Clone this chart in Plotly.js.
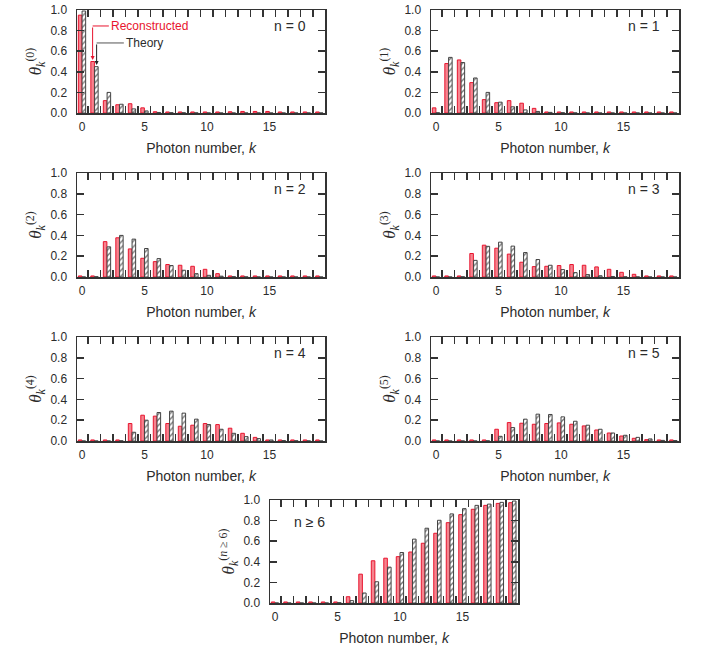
<!DOCTYPE html>
<html>
<head>
<meta charset="utf-8">
<script src="https://cdn.plot.ly/plotly-3.0.1.min.js"></script>
<style>
  html, body { margin: 0; padding: 0; background: #fff; }
  #chart { width: 709px; height: 649px; }
</style>
</head>
<body>
<div id="chart"></div>
<script>
// photon number k = 0..19
const kValues = [0,1,2,3,4,5,6,7,8,9,10,11,12,13,14,15,16,17,18,19];
const xTickVals = [0, 5, 10, 15];
const xTickText = ['0', '5', '10', '15'];

const panelLabels = ['n = 0', 'n = 1', 'n = 2', 'n = 3', 'n = 4', 'n = 5', 'n \u2265 6'];
const panelSup = ['(0)', '(1)', '(2)', '(3)', '(4)', '(5)', '(<i>n</i> \u2265 6)'];

// reconstructed values (red)
const recon0 = [0.95,0.50,0.12,0.08,0.09,0.05,0.012,0.01,0.01,0.01,0.01,0.01,0.012,0.015,0.015,0.015,0.01,0.01,0.01,0.01];
const recon1 = [0.05,0.48,0.515,0.295,0.13,0.10,0.12,0.095,0.045,0.01,0.01,0.01,0.01,0.01,0.01,0.01,0.01,0.01,0.01,0.01];
const recon2 = [0.01,0.01,0.34,0.377,0.27,0.18,0.148,0.12,0.113,0.103,0.074,0.032,0.01,0.01,0.01,0.01,0.01,0.01,0.01,0.01];
const recon3 = [0.01,0.01,0.01,0.226,0.306,0.277,0.22,0.142,0.10,0.103,0.11,0.12,0.113,0.097,0.074,0.045,0.026,0.01,0.01,0.01];
const recon4 = [0.01,0.01,0.01,0.01,0.168,0.248,0.239,0.168,0.142,0.152,0.168,0.158,0.123,0.074,0.035,0.01,0.01,0.01,0.01,0.01];
const recon5 = [0.01,0.01,0.01,0.01,0.01,0.113,0.177,0.171,0.161,0.168,0.174,0.161,0.145,0.106,0.077,0.048,0.026,0.013,0.01,0.01];
const recon6 = [0.01,0.01,0.01,0.01,0.01,0.01,0.061,0.28,0.41,0.435,0.45,0.495,0.58,0.677,0.78,0.858,0.91,0.948,0.967,0.974];

// theory values (hatched)
const theory0 = [0.99,0.45,0.20,0.085,0.04,0.02,0.005,0.003,0.002,0.001,0,0,0,0,0,0,0,0,0,0];
const theory1 = [0.002,0.54,0.49,0.34,0.20,0.105,0.06,0.03,0.015,0.006,0.003,0.001,0,0,0,0,0,0,0,0];
const theory2 = [0,0.003,0.29,0.40,0.364,0.274,0.177,0.11,0.065,0.032,0.016,0.008,0.003,0.001,0,0,0,0,0,0];
const theory3 = [0,0,0.002,0.16,0.295,0.335,0.297,0.235,0.168,0.113,0.071,0.042,0.023,0.012,0.005,0.002,0.001,0,0,0];
const theory4 = [0,0,0,0.002,0.084,0.20,0.274,0.287,0.268,0.21,0.158,0.113,0.074,0.042,0.023,0.01,0.004,0.002,0.001,0];
const theory5 = [0,0,0,0,0.002,0.045,0.129,0.21,0.258,0.255,0.232,0.19,0.152,0.113,0.077,0.055,0.035,0.02,0.006,0.004];
const theory6 = [0,0,0,0,0,0.003,0.023,0.097,0.206,0.348,0.49,0.62,0.726,0.803,0.865,0.916,0.948,0.96,0.977,0.99];

const reconAll = [recon0, recon1, recon2, recon3, recon4, recon5, recon6];
const theoryAll = [theory0, theory1, theory2, theory3, theory4, theory5, theory6];

// panel boxes in pixels: [left, right, top, bottom]
const W = 709, H = 649;
const boxes = [
    [77, 325, 10, 113],
    [431, 679, 10, 113],
    [77, 325, 173, 277],
    [431, 679, 173, 277],
    [77, 325, 337, 441],
    [431, 679, 337, 441],
    [270, 518, 500, 603]
];

const textColor = '#2b2b2b';
const frameColor = '#333333';
const redLine = '#e8142e';
const redFill = '#f5848f';

const data = [];
const layout = {
    width: W,
    height: H,
    margin: {l: 0, r: 0, t: 0, b: 0},
    paper_bgcolor: '#fff',
    plot_bgcolor: '#fff',
    showlegend: false,
    barmode: 'group',
    bargap: 0.4,
    bargroupgap: 0.05,
    font: {family: 'Liberation Sans, Arial, sans-serif', size: 12, color: textColor},
    annotations: [],
    shapes: []
};

for (let i = 0; i < 7; i++) {
    const suf = i === 0 ? '' : String(i + 1);
    const xa = 'x' + suf, ya = 'y' + suf;
    const b = boxes[i];

    data.push({
        x: kValues,
        y: reconAll[i],
        type: 'bar',
        name: 'Reconstructed',
        xaxis: xa,
        yaxis: ya,
        marker: {color: redFill, line: {color: redLine, width: 1}},
        hoverinfo: 'skip'
    });
    data.push({
        x: kValues,
        y: theoryAll[i],
        type: 'bar',
        name: 'Theory',
        xaxis: xa,
        yaxis: ya,
        marker: {
            color: '#ffffff',
            line: {color: '#444', width: 1},
            pattern: {shape: '/', fgcolor: '#777', bgcolor: '#fff', size: 4, solidity: 0.35}
        },
        hoverinfo: 'skip'
    });

    layout['xaxis' + suf] = {
        domain: [b[0] / W, b[1] / W],
        anchor: ya,
        range: [-0.4, 19.45],
        tickmode: 'array',
        tickvals: xTickVals,
        ticktext: xTickText,
        ticks: '',
        ticklabelstandoff: 2,
        showline: true,
        linecolor: frameColor,
        linewidth: 1.5,
        mirror: 'ticks',
        showgrid: false,
        zeroline: false,
        minor: {
            tickmode: 'linear', tick0: 0.5, dtick: 1,
            ticks: 'inside', ticklen: 7, tickwidth: 1.5, tickcolor: frameColor, showgrid: false
        },
        tickfont: {size: 12, color: textColor},
        title: {text: 'Photon number, <i>k</i>', font: {size: 14, color: textColor}, standoff: 10}
    };
    layout['yaxis' + suf] = {
        domain: [1 - b[3] / H, 1 - b[2] / H],
        anchor: xa,
        range: [0, 1],
        dtick: 0.2,
        tickformat: '.1f',
        ticks: 'inside',
        ticklen: 7,
        tickwidth: 1.5,
        tickcolor: frameColor,
        ticklabelstandoff: 6,
        showline: true,
        linecolor: frameColor,
        linewidth: 1.5,
        mirror: 'ticks',
        showgrid: false,
        zeroline: false,
        tickfont: {size: 12, color: textColor},
        title: {
            text: '<i>\u03b8</i><sub><i>k</i></sub><sup>' + panelSup[i] + '</sup>',
            font: {family: 'Liberation Serif, Times New Roman, serif', size: 17, color: textColor},
            standoff: 4
        }
    };

    const isLast = i === 6;
    layout.annotations.push({
        xref: xa + ' domain', yref: ya + ' domain',
        x: isLast ? 0.09 : 0.93, y: isLast ? 0.786 : 0.845,
        xanchor: isLast ? 'left' : 'right', yanchor: 'middle',
        text: panelLabels[i], showarrow: false,
        font: {size: 14, color: textColor}
    });
}

// legend call-outs on first panel
layout.annotations.push({
    xref: 'x', yref: 'y', x: 2.2, y: 0.845, xanchor: 'left', yanchor: 'middle',
    text: 'Reconstructed', showarrow: false, font: {size: 12, color: redLine}
});
layout.annotations.push({
    xref: 'x', yref: 'y', x: 3.4, y: 0.68, xanchor: 'left', yanchor: 'middle',
    text: 'Theory', showarrow: false, font: {size: 12, color: textColor}
});
layout.shapes.push({
    type: 'line', xref: 'x', yref: 'y', x0: 0.85, x1: 2.15, y0: 0.845, y1: 0.845,
    line: {color: redLine, width: 1}
});
layout.shapes.push({
    type: 'line', xref: 'x', yref: 'y', x0: 1.17, x1: 3.35, y0: 0.68, y1: 0.68,
    line: {color: '#555', width: 1}
});
layout.annotations.push({
    xref: 'x', yref: 'y', axref: 'x', ayref: 'y',
    x: 0.85, y: 0.515, ax: 0.85, ay: 0.845, text: '', showarrow: true,
    arrowhead: 2, arrowsize: 0.8, arrowwidth: 1, arrowcolor: redLine
});
layout.annotations.push({
    xref: 'x', yref: 'y', axref: 'x', ayref: 'y',
    x: 1.17, y: 0.465, ax: 1.17, ay: 0.68, text: '', showarrow: true,
    arrowhead: 2, arrowsize: 0.8, arrowwidth: 1, arrowcolor: '#222'
});

Plotly.newPlot('chart', data, layout, {staticPlot: true});
</script>
</body>
</html>
